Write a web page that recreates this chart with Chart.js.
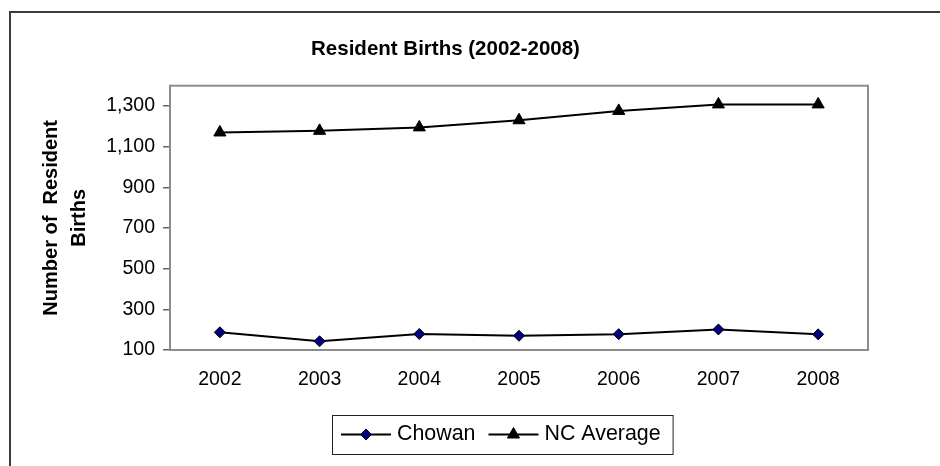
<!DOCTYPE html>
<html>
<head>
<meta charset="utf-8">
<title>Resident Births (2002-2008)</title>
<script src="https://cdn.jsdelivr.net/npm/chart.js@4.4.1/dist/chart.umd.min.js"></script>
<style>
  html, body { margin: 0; padding: 0; background: #fff; }
  #wrap { width: 940px; height: 466px; position: relative; }
</style>
</head>
<body>
<div id="wrap"><canvas id="births"></canvas></div>
<script>
// ─── Data ────────────────────────────────────────────────────────────────

const YEARS      = ['2002', '2003', '2004', '2005', '2006', '2007', '2008'];
const CHOWAN     = [187, 143, 179, 170, 178, 201, 177];
const NC_AVERAGE = [1170, 1178, 1195, 1230, 1276, 1308, 1308];
const Y_TICKS    = [100, 300, 500, 700, 900, 1100, 1300];
const Y_MIN = 100;
const Y_MAX = 1400;

// ─── Shared defaults ─────────────────────────────────────────────────────

const FONT = '"Liberation Sans", Arial, sans-serif';
Chart.defaults.font.family = FONT;
Chart.defaults.color = '#000';

// ─── Plugins: outer frame, plot border, boxed legend ─────────────────────

const frame = {
  id: 'frame',
  beforeDraw(chart) {
    const { ctx, width, height } = chart;
    ctx.save();
    ctx.fillStyle = '#fff';
    ctx.fillRect(0, 0, width, height);
    ctx.strokeStyle = '#3c3c3c';
    ctx.lineWidth = 2;
    ctx.beginPath();
    ctx.moveTo(10, height + 5);
    ctx.lineTo(10, 12);
    ctx.lineTo(width + 5, 12);
    ctx.stroke();
    ctx.restore();
  },
  beforeDatasetsDraw(chart) {
    const { ctx, chartArea: a } = chart;
    ctx.save();
    ctx.strokeStyle = '#8c8c8c';
    ctx.lineWidth = 2;
    ctx.strokeRect(a.left, a.top, a.right - a.left, a.bottom - a.top);
    ctx.restore();
  },
};

function marker(ctx, ds, x, y) {
  ctx.fillStyle = ds.pointBackgroundColor;
  ctx.strokeStyle = ds.pointBorderColor;
  ctx.lineWidth = ds.pointBorderWidth;
  Chart.helpers.drawPoint(ctx, {
    pointStyle: ds.pointStyle,
    radius: ds.pointRadius,
    rotation: 0,
    borderWidth: ds.pointBorderWidth,
  }, x, y);
}

const boxLegend = {
  id: 'boxLegend',
  afterDraw(chart) {
    const { ctx } = chart;
    const left = 332, top = 415, h = 39;
    const cy = top + h / 2;
    ctx.save();
    ctx.font = `21.4px ${FONT}`;
    ctx.textBaseline = 'middle';

    let x = left + 9;
    chart.data.datasets.forEach((ds, i) => {
      ctx.strokeStyle = ds.borderColor;
      ctx.lineWidth = ds.borderWidth;
      ctx.beginPath();
      ctx.moveTo(x, cy);
      ctx.lineTo(x + 50, cy);
      ctx.stroke();
      marker(ctx, ds, x + 25, cy);
      ctx.fillStyle = '#000';
      ctx.fillText(ds.label, x + 56, cy);
      x += 56 + ctx.measureText(ds.label).width;
      if (i < chart.data.datasets.length - 1) x += 13;
    });

    ctx.strokeStyle = '#222';
    ctx.lineWidth = 1;
    ctx.strokeRect(left + 0.5, top + 0.5, x + 12 - left, h);
    ctx.restore();
  },
};

// ─── Chart ───────────────────────────────────────────────────────────────

new Chart(document.getElementById('births'), {
  type: 'line',
  data: {
    labels: YEARS,
    datasets: [
      {
        label: 'Chowan',
        data: CHOWAN,
        borderColor: '#000',
        borderWidth: 2,
        tension: 0,
        pointStyle: 'rectRot',
        pointRadius: 5.5,
        pointBackgroundColor: '#000080',
        pointBorderColor: '#000',
        pointBorderWidth: 1,
      },
      {
        label: 'NC Average',
        data: NC_AVERAGE,
        borderColor: '#000',
        borderWidth: 2,
        tension: 0,
        pointStyle: 'triangle',
        pointRadius: 7,
        pointBackgroundColor: '#000',
        pointBorderColor: '#000',
        pointBorderWidth: 1,
      },
    ],
  },
  options: {
    responsive: true,
    maintainAspectRatio: false,
    animation: false,
    layout: { padding: { left: 23, right: 72, top: 0, bottom: 80 } },
    plugins: {
      legend: { display: false },
      tooltip: { enabled: false },
      title: {
        display: true,
        text: 'Resident Births (2002-2008)',
        color: '#000',
        font: { size: 20.5, weight: 'bold' },
        padding: { top: 37, bottom: 24.1 },
      },
    },
    scales: {
      x: {
        offset: true,
        grid: { display: false, drawTicks: false },
        border: { display: false },
        ticks: { color: '#000', font: { size: 19.5 }, padding: 18 },
        afterFit: s => { s.height = 36; },
      },
      y: {
        min: Y_MIN,
        max: Y_MAX,
        afterBuildTicks: s => { s.ticks = Y_TICKS.map(v => ({ value: v })); },
        grid: { drawOnChartArea: false, drawTicks: true, tickLength: 7, color: '#666', lineWidth: 1.5 },
        border: { display: false },
        ticks: { color: '#000', font: { size: 19.5 }, padding: 8, callback: v => v.toLocaleString('en-US') },
        title: {
          display: true,
          text: ['Number of  Resident', 'Births'],
          color: '#000',
          font: { size: 20, weight: 'bold', lineHeight: 1.425 },
          padding: { top: 13.75, bottom: 0 },
        },
        afterFit: s => { s.width = 147; },
      },
    },
  },
  plugins: [frame, boxLegend],
});
</script>
</body>
</html>
